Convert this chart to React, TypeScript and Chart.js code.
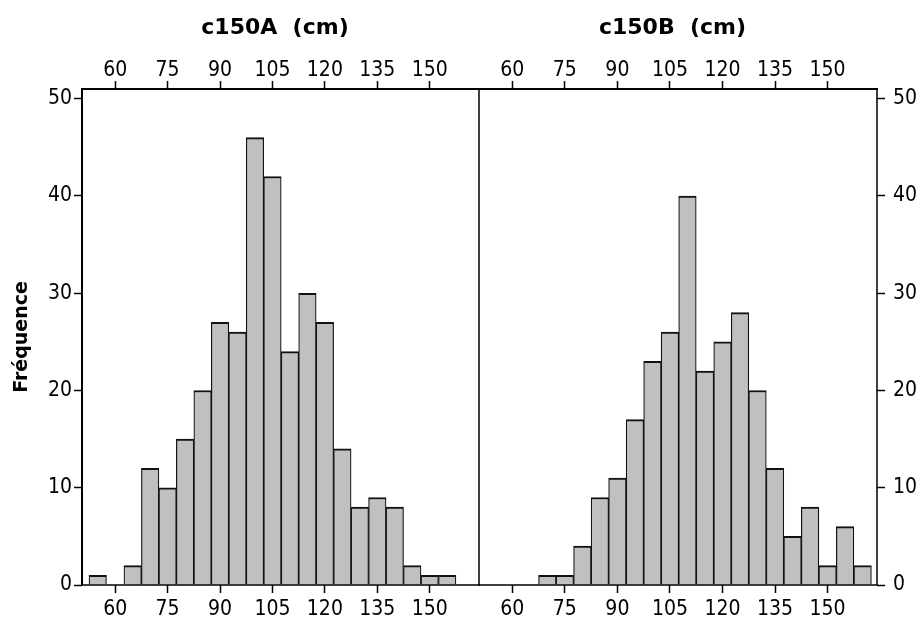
import React, { useEffect, useRef } from 'react';
import { Chart, registerables } from 'chart.js';

Chart.register(...registerables);

// ---- data ----
const binCenters = [55, 60, 65, 70, 75, 80, 85, 90, 95, 100, 105, 110, 115, 120, 125, 130, 135, 140, 145, 150, 155, 160];
const countsA = [1, 0, 2, 12, 10, 15, 20, 27, 26, 46, 42, 24, 30, 27, 14, 8, 9, 8, 2, 1, 1, 0];
const countsB = [0, 0, 0, 1, 1, 4, 9, 11, 17, 23, 26, 40, 22, 25, 28, 20, 12, 5, 8, 2, 6, 2];
const xTickValues = [60, 75, 90, 105, 120, 135, 150];
const yTickValues = [0, 10, 20, 30, 40, 50];
const panelTitles = ['c150A  (cm)', 'c150B  (cm)'];
const yTitle = 'Fréquence';

const X_MIN = 50.5;
const X_MAX = 164.1;
const Y_MAX = 51;

const TICK_FONT = { family: "'DejaVu Sans Condensed', 'DejaVu Sans', sans-serif", size: 21 };
const W = 919;
const H = 617;
const PLOT_TOP = 89;
const PLOT_BOTTOM = 585;

type Side = 'left' | 'right';

const framePlugin = {
  id: 'panelFrame',
  afterDatasetsDraw(chart: any, _args: any, opts: any) {
    const { ctx, chartArea } = chart;
    const { left, right, top, bottom } = chartArea;
    ctx.save();
    ctx.strokeStyle = '#000';
    const seg = (x1: number, y1: number, x2: number, y2: number, w: number) => {
      ctx.lineWidth = w;
      ctx.beginPath();
      ctx.moveTo(x1, y1);
      ctx.lineTo(x2, y2);
      ctx.stroke();
    };
    seg(left - 1, top, right + 1, top, 2);
    seg(left - 1, bottom, right + 1, bottom, 1.5);
    if (opts.side === 'left') {
      seg(left, top, left, bottom, 2);
      seg(right, top, right, bottom, 1.5);
    } else {
      seg(right, top, right, bottom, 1.5);
    }
    ctx.restore();
  },
  afterDraw(chart: any, _args: any, opts: any) {
    const { ctx, chartArea } = chart;
    const cx = (chartArea.left + chartArea.right) / 2 - 5.5;
    ctx.save();
    ctx.fillStyle = '#000';
    ctx.font = "bold 22px 'DejaVu Sans', sans-serif";
    ctx.textAlign = 'center';
    ctx.textBaseline = 'alphabetic';
    ctx.fillText(opts.title, cx, 34);
    ctx.restore();
  },
};

function setTicks(values: number[]) {
  return (scale: any) => {
    scale.ticks = values.map((v) => ({ value: v }));
  };
}

function makeConfig(side: Side, counts: number[], title: string): any {
  const xCommon = {
    type: 'linear',
    min: X_MIN,
    max: X_MAX,
    offset: false,
    afterBuildTicks: setTicks(xTickValues),
    border: { display: false },
    grid: {
      display: true,
      drawOnChartArea: false,
      drawTicks: true,
      tickLength: 8,
      tickColor: '#000',
      tickWidth: 1.5,
      offset: false,
    },
  };
  const yAxis: any = {
    type: 'linear',
    position: side,
    min: 0,
    max: Y_MAX,
    afterBuildTicks: setTicks(yTickValues),
    border: { display: false },
    grid: {
      display: true,
      drawOnChartArea: false,
      drawTicks: true,
      tickLength: 8,
      tickColor: '#000',
      tickWidth: 1.5,
    },
    ticks: {
      color: '#000',
      font: TICK_FONT,
      padding: side === 'left' ? 2 : 8,
      autoSkip: false,
    },
  };
  if (side === 'left') {
    yAxis.title = {
      display: true,
      text: yTitle,
      color: '#000',
      font: { family: "'DejaVu Sans', sans-serif", size: 19, weight: 'bold' },
      padding: { top: 11, bottom: 0 },
    };
    yAxis.afterFit = (s: any) => {
      s.width = 82;
    };
  } else {
    yAxis.afterFit = (s: any) => {
      s.width = 42;
    };
  }
  return {
    type: 'bar',
    data: {
      datasets: [
        {
          data: binCenters.map((x, i) => ({ x, y: counts[i] })),
          backgroundColor: '#c0c0c0',
          borderColor: '#111',
          borderWidth: { top: 2, left: 1.2, right: 1.2, bottom: 0 },
          borderSkipped: 'start',
          barPercentage: 1,
          categoryPercentage: 1,
          xAxisID: 'x',
          yAxisID: 'y',
        },
      ],
    },
    options: {
      responsive: false,
      animation: false,
      devicePixelRatio: 1,
      layout: {
        padding: side === 'left' ? { left: 0, right: 11, top: 0, bottom: 0 } : { left: 9, right: 0, top: 0, bottom: 0 },
      },
      plugins: {
        legend: { display: false },
        tooltip: { enabled: false },
        title: { display: false },
        panelFrame: { side, title },
      },
      scales: {
        x: {
          ...xCommon,
          position: 'bottom',
          ticks: { color: '#000', font: TICK_FONT, padding: 4, autoSkip: false, maxRotation: 0 },
          afterFit: (s: any) => {
            s.height = H - PLOT_BOTTOM;
          },
        },
        xTop: {
          ...xCommon,
          position: 'top',
          ticks: { color: '#000', font: TICK_FONT, padding: -2, autoSkip: false, maxRotation: 0 },
          afterFit: (s: any) => {
            s.height = PLOT_TOP;
          },
        },
        y: yAxis,
      },
    },
    plugins: [framePlugin],
  };
}

function Panel({ side, counts, title, left, width }: { side: Side; counts: number[]; title: string; left: number; width: number }) {
  const ref = useRef<HTMLCanvasElement | null>(null);
  useEffect(() => {
    if (!ref.current) return;
    const chart = new Chart(ref.current, makeConfig(side, counts, title));
    return () => chart.destroy();
  }, [side, counts, title]);
  return (
    <canvas
      ref={ref}
      width={width}
      height={H}
      style={{ position: 'absolute', left, top: 0, width, height: H }}
    />
  );
}

export default function App() {
  return (
    <div style={{ position: 'fixed', left: 0, top: 0, width: W, height: H, background: '#fff', overflow: 'hidden' }}>
      <Panel side="left" counts={countsA} title={panelTitles[0]} left={0} width={490} />
      <Panel side="right" counts={countsB} title={panelTitles[1]} left={470} width={449} />
    </div>
  );
}
